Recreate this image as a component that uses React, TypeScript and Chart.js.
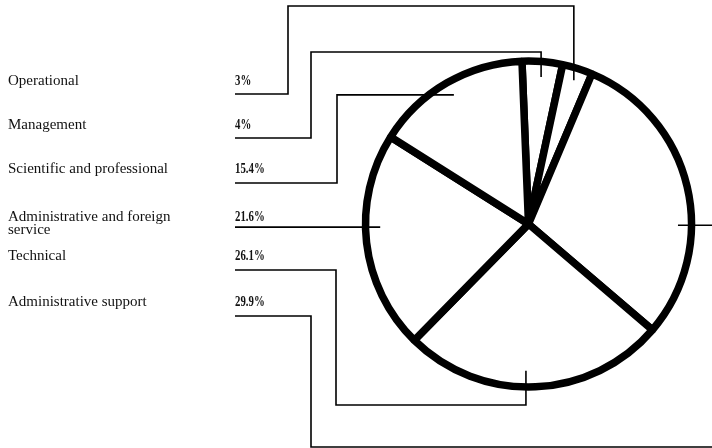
import React, { useEffect, useRef } from "react";
import { Chart, registerables } from "chart.js";

Chart.register(...registerables);

// ---- data ----
const categories = [
  "Operational",
  "Management",
  "Scientific and professional",
  "Administrative and foreign service",
  "Technical",
  "Administrative support",
];
const shares = [3, 4, 15.4, 21.6, 26.1, 29.9];
// clockwise order of the slices in the pie, starting just left of 12 o'clock
const pieOrder = [1, 0, 5, 4, 3, 2];

// ---- layout ----
const W = 712;
const H = 448;
const LABEL_X = 8;
const PCT_X = 235;
const baselines = [85, 129, 173, 221, 260, 306];
const leaderY = [94, 138, 183, 227, 270, 316];

const leaderPlugin = {
  id: "leaders",
  afterDatasetsDraw(chart: any) {
    const ctx = chart.ctx as CanvasRenderingContext2D;
    const meta = chart.getDatasetMeta(0);
    const arcs = meta.data as any[];
    const arcFor = (cat: number) => arcs[pieOrder.indexOf(cat)];
    const a0 = arcs[0];
    const cx = a0.x;
    const cy = a0.y;
    const R = a0.outerRadius;
    const pt = (ang: number, f: number) => ({ x: cx + Math.cos(ang) * R * f, y: cy + Math.sin(ang) * R * f });
    const mid = (cat: number) => {
      const a = arcFor(cat);
      return (a.startAngle + a.endAngle) / 2;
    };
    const fromTop = (deg: number) => ((deg - 90) * Math.PI) / 180;

    ctx.save();
    // labels
    ctx.fillStyle = "#111";
    ctx.textBaseline = "alphabetic";
    ctx.textAlign = "left";
    ctx.font = '15px "Liberation Serif", "Times New Roman", serif';
    categories.forEach((c, i) => {
      const words = c.split(" ");
      const lines: string[] = [];
      let cur = "";
      words.forEach((w) => {
        const t = cur ? cur + " " + w : w;
        if (ctx.measureText(t).width > 178 && cur) {
          lines.push(cur);
          cur = w;
        } else cur = t;
      });
      lines.push(cur);
      lines.forEach((l, k) => ctx.fillText(l, LABEL_X, baselines[i] + k * 13));
    });
    ctx.font = 'bold 15px "Liberation Serif", "Times New Roman", serif';
    shares.forEach((v, i) => {
      ctx.save();
      ctx.translate(PCT_X, baselines[i]);
      ctx.scale(0.72, 1);
      ctx.fillText(`${v}%`, 0, 0);
      ctx.restore();
    });

    // leader lines
    ctx.strokeStyle = "#000";
    ctx.lineWidth = 1.6;
    ctx.lineJoin = "miter";
    ctx.lineCap = "butt";
    const path = (pts: { x: number; y: number }[]) => {
      ctx.beginPath();
      ctx.moveTo(pts[0].x, pts[0].y);
      for (let i = 1; i < pts.length; i++) ctx.lineTo(pts[i].x, pts[i].y);
      ctx.stroke();
    };
    // Operational
    let E = pt(mid(0), 0.925);
    path([{ x: PCT_X, y: leaderY[0] }, { x: 288, y: leaderY[0] }, { x: 288, y: 6 }, { x: E.x, y: 6 }, E]);
    // Management
    E = pt(mid(1), 0.905);
    path([{ x: PCT_X, y: leaderY[1] }, { x: 311, y: leaderY[1] }, { x: 311, y: 52 }, { x: E.x, y: 52 }, E]);
    // Scientific and professional
    E = pt(mid(2), 0.915);
    path([{ x: PCT_X, y: leaderY[2] }, { x: 337, y: leaderY[2] }, { x: 337, y: E.y }, E]);
    // Administrative and foreign service
    E = pt(fromTop(268.8), 0.91);
    path([{ x: PCT_X, y: E.y }, E]);
    // Technical
    E = pt(fromTop(181), 0.9);
    path([{ x: PCT_X, y: leaderY[4] }, { x: 336, y: leaderY[4] }, { x: 336, y: 405 }, { x: E.x, y: 405 }, E]);
    // Administrative support
    E = pt(fromTop(90.5), 0.917);
    path([{ x: PCT_X, y: leaderY[5] }, { x: 311, y: leaderY[5] }, { x: 311, y: 447 }, { x: W + 10, y: 447 }, { x: W + 10, y: E.y }, E]);
    ctx.restore();
  },
};

export default function App() {
  const ref = useRef<HTMLCanvasElement | null>(null);
  useEffect(() => {
    if (!ref.current) return;
    const chart = new Chart(ref.current, {
      type: "pie",
      data: {
        labels: pieOrder.map((i) => categories[i]),
        datasets: [
          {
            data: pieOrder.map((i) => shares[i]),
            backgroundColor: "#ffffff",
            borderColor: "#000000",
            borderWidth: 7.5,
            hoverBorderWidth: 7.5,
          },
        ],
      },
      options: {
        responsive: false,
        animation: false,
        devicePixelRatio: 1,
        rotation: -2.3,
        radius: 163,
        layout: { padding: { left: 360, right: 15, top: 0, bottom: 0 } },
        plugins: { legend: { display: false }, tooltip: { enabled: false } },
        events: [],
      },
      plugins: [leaderPlugin],
    });
    return () => chart.destroy();
  }, []);
  return (
    <div style={{ position: "fixed", left: 0, top: 0, width: W, height: H, background: "#fff", overflow: "hidden" }}>
      <canvas ref={ref} width={W} height={H} style={{ display: "block", width: W, height: H }} />
    </div>
  );
}
